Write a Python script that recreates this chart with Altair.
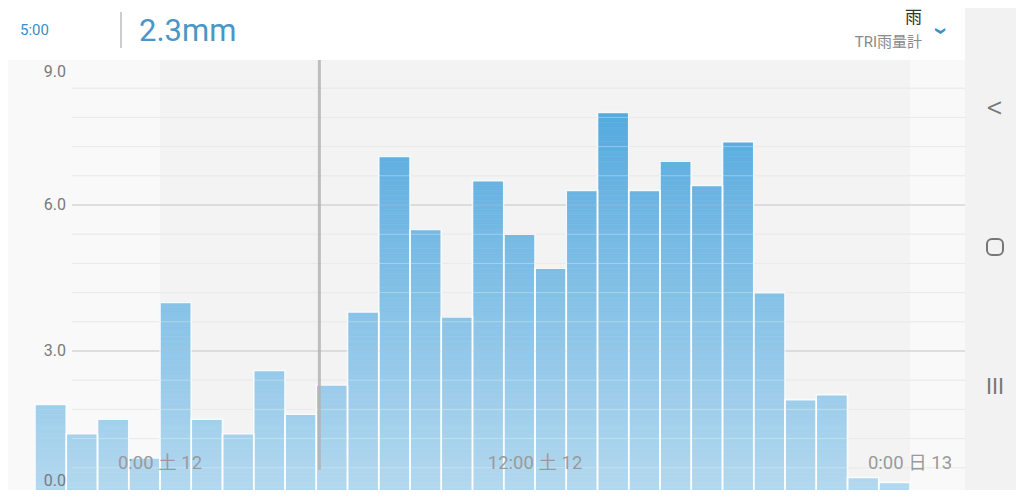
import altair as alt
import pandas as pd

# ---- data ----
hours = [-6, -5, -4, -3, -2, -1, 0, 1, 2, 3, 4, 5, 6, 7, 8, 9, 10, 11,
         12, 13, 14, 15, 16, 17, 18, 19, 20, 21, 22, 23]
rain = [0.3, 0.1, 1.9, 1.3, 1.6, 0.8, 4.0, 1.6, 1.3, 2.6, 1.7, 2.3, 3.8, 7.0,
        5.5, 3.7, 6.5, 5.4, 4.7, 6.3, 7.9, 6.3, 6.9, 6.4, 7.3, 4.2, 2.0, 2.1,
        0.4, 0.3]
y_ticks = [0, 3, 6, 9]
y_tick_labels = ["0.0", "3.0", "6.0", "9.0"]
minor_grid = [0.6, 1.2, 1.8, 2.4, 3.6, 4.2, 4.8, 5.4, 6.6, 7.2, 7.8, 8.4]
major_grid = [3, 6]
x_label_hours = [0, 12, 24]
x_labels = ["0:00 土 12", "12:00 土 12", "0:00 日 13"]
day_band = [(0, 24)]
cursor_hour = [5.1]

FONT = "Roboto, 'Noto Sans CJK JP', sans-serif"
W, H = 1008, 482

xscale = alt.Scale(domain=[0, 24], range=[152, 902])
yscale = alt.Scale(domain=[0, 9], range=[489, 51], zero=False, nice=False)
col_scale = alt.Scale(domain=[0, 9], range=["#b4d9ef", "#42a4dd"])

df = pd.DataFrame({"h": hours, "v": rain})
df_minor = pd.DataFrame({"g": minor_grid})
df_major = pd.DataFrame({"g": major_grid})
df_xl = pd.DataFrame({"h": x_label_hours, "t": x_labels})
df_yl = pd.DataFrame({"v": y_ticks, "t": y_tick_labels})
df_band = pd.DataFrame(day_band, columns=["a", "b"])
df_cur = pd.DataFrame({"h": cursor_hour})
one = pd.DataFrame({"k": [0]})

# backgrounds
nav = alt.Chart(one).mark_rect(fill="#f2f2f2").encode(
    x=alt.value(957), x2=alt.value(W + 10), y=alt.value(-10), y2=alt.value(H + 10))
header = alt.Chart(one).mark_rect(fill="#ffffff").encode(
    x=alt.value(-10), x2=alt.value(957), y=alt.value(-10), y2=alt.value(52))
plotbg = alt.Chart(one).mark_rect(fill="#f9f9f9").encode(
    x=alt.value(-10), x2=alt.value(957), y=alt.value(52), y2=alt.value(H + 10))
band = alt.Chart(df_band).mark_rect(fill="#f3f3f3").encode(
    x=alt.X("a:Q", scale=xscale, axis=None), x2="b:Q",
    y=alt.value(52), y2=alt.value(H + 10))

minor = alt.Chart(df_minor).mark_rule(color="#e6e6e6", strokeWidth=1).encode(
    y=alt.Y("g:Q", scale=yscale, axis=None), x=alt.value(64), x2=alt.value(957))
major = alt.Chart(df_major).mark_rule(color="#cdcdcd", strokeWidth=1.2).encode(
    y=alt.Y("g:Q", scale=yscale, axis=None), x=alt.value(64), x2=alt.value(957))

# bars: sliced so the gradient follows the plot height
bars = alt.Chart(df).transform_calculate(
    h2="datum.h + 1",
    seq="sequence(0, datum.v, 0.1)"
).transform_flatten(["seq"]).transform_calculate(
    top="min(datum.seq + 0.1, datum.v)",
    mid="(datum.seq + min(datum.seq + 0.1, datum.v)) / 2"
).mark_rect(strokeWidth=0.6).encode(
    x=alt.X("h:Q", scale=xscale, axis=None), x2="h2:Q",
    y=alt.Y("seq:Q", scale=yscale, axis=None), y2="top:Q",
    color=alt.Color("mid:Q", scale=col_scale, legend=None),
    stroke=alt.Stroke("mid:Q", scale=col_scale, legend=None))

outline = alt.Chart(df).transform_calculate(h2="datum.h + 1").mark_rect(
    fillOpacity=0, stroke="#ffffff", strokeWidth=1.6, strokeOpacity=0.9).encode(
    x=alt.X("h:Q", scale=xscale, axis=None), x2="h2:Q",
    y=alt.Y("v:Q", scale=yscale, axis=None), y2=alt.datum(0))

minor_over = alt.Chart(df_minor).mark_rule(color="#eef3f6", strokeWidth=1, opacity=0.35).encode(
    y=alt.Y("g:Q", scale=yscale, axis=None), x=alt.value(64), x2=alt.value(957))
major_over = alt.Chart(df_major).mark_rule(color="#c8c8c8", strokeWidth=1, opacity=0.35).encode(
    y=alt.Y("g:Q", scale=yscale, axis=None), x=alt.value(64), x2=alt.value(957))

cursor = alt.Chart(df_cur).mark_rule(color="#b3b3b3", strokeWidth=3, opacity=0.85).encode(
    x=alt.X("h:Q", scale=xscale, axis=None), y=alt.value(52), y2=alt.value(462))

xlab = alt.Chart(df_xl).mark_text(font=FONT, fontSize=18.5, color="#9a9a9a",
                                  align="center", baseline="middle").encode(
    x=alt.X("h:Q", scale=xscale, axis=None), y=alt.value(455), text="t:N")


# y tick labels, kept inside the plot like the app does
def ylabels(cond, dy):
    return alt.Chart(df_yl).transform_filter(cond).mark_text(
        font=FONT, fontSize=16, color="#7a7a7a", align="right",
        baseline="middle", dy=dy).encode(
        y=alt.Y("v:Q", scale=yscale, axis=None), x=alt.value(58), text="t:N")


ylab_mid = ylabels("datum.v > 0 && datum.v < 9", 0)
ylab_top = ylabels("datum.v == 9", 13)
ylab_bot = ylabels("datum.v == 0", -16)


# header
def txt(s, x, y, size, color, align="left", weight="normal", angle=0):
    return alt.Chart(one).mark_text(text=s, font=FONT, fontSize=size, color=color,
                                    align=align, baseline="middle",
                                    fontWeight=weight, angle=angle).encode(
        x=alt.value(x), y=alt.value(y))


time_t = txt("5:00", 12, 22, 15, "#3a8dc5")
sep = alt.Chart(one).mark_rule(color="#bdbdbd", strokeWidth=1.5).encode(
    x=alt.value(113), y=alt.value(4), y2=alt.value(40))
value_t = txt("2.3mm", 131, 24, 31, "#4b95c7")
rain_t = txt("雨", 914, 10, 17, "#333333", align="right")
gauge_t = txt("TRI雨量計", 914, 34, 15, "#8a8a8a", align="right")
chev = txt("›", 933, 23, 26, "#3a8dc5", align="center", weight="bold", angle=90)

# nav bar icons
back = txt("<", 987, 100, 32, "#777777", align="center", weight=300)
home = alt.Chart(one).mark_rect(fillOpacity=0, stroke="#777777", strokeWidth=2,
                                cornerRadius=5).encode(
    x=alt.value(979), x2=alt.value(995), y=alt.value(231), y2=alt.value(247))
recent = txt("III", 987, 379, 22, "#777777", align="center")

chart = alt.layer(
    nav, header, plotbg, band, minor, major, bars, outline, minor_over, major_over,
    cursor, xlab, ylab_mid, ylab_top, ylab_bot,
    time_t, sep, value_t, rain_t, gauge_t, chev, back, home, recent
).properties(
    width=W, height=H, autosize="none", padding=0, background="#ffffff"
).configure_view(stroke=None)

chart.save("out.html", embed_options={"renderer": "svg", "actions": False})
